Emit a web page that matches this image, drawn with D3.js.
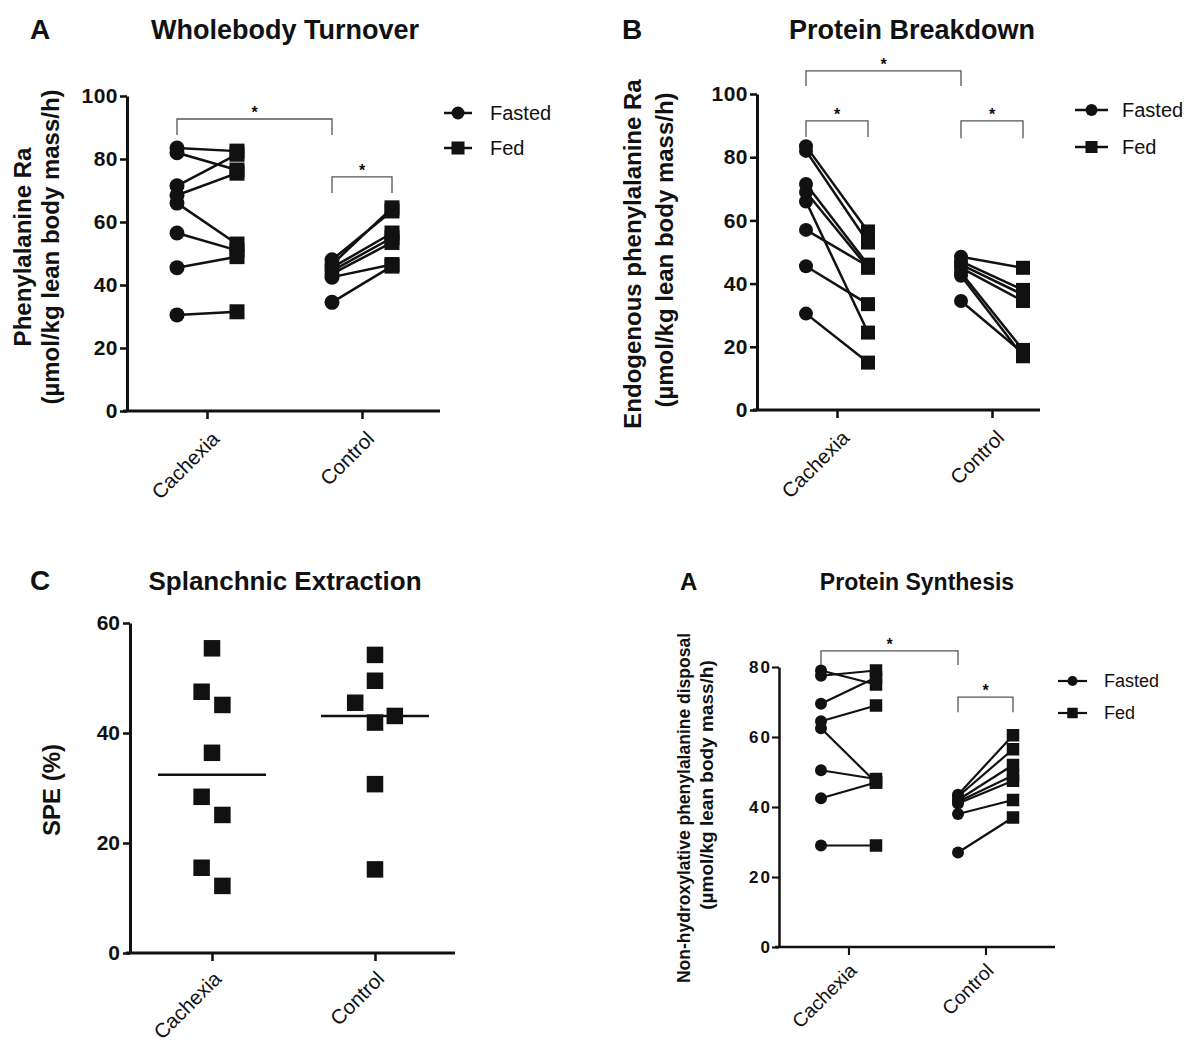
<!DOCTYPE html>
<html>
<head>
<meta charset="utf-8">
<script src="https://cdn.jsdelivr.net/npm/d3@7"></script>
<style>
  body { margin: 0; background: #fff; }
  svg text { font-family: "Liberation Sans", Arial, sans-serif; fill: #111; }
</style>
</head>
<body>
<div id="chart"></div>
<script>
// Categories
var groups = ["Cachexia", "Control"];
var conditions = ["Fasted", "Fed"];

// A: Wholebody turnover (phenylalanine Ra), one value per subject
var turnoverCachexiaFasted = [83.5, 82, 71.5, 68.5, 66, 56.5, 45.5, 30.5];
var turnoverCachexiaFed    = [82.5, 76.5, 81.5, 75.5, 53, 51, 49, 31.5];
var turnoverControlFasted  = [48, 46.5, 45.5, 44.5, 43.5, 42.5, 34.5];
var turnoverControlFed     = [63.5, 64.5, 56.5, 55, 53.5, 46.5, 46];

// B: Protein breakdown (endogenous phenylalanine Ra)
var breakdownCachexiaFasted = [83.5, 82, 71.5, 69, 66, 57, 45.5, 30.5];
var breakdownCachexiaFed    = [56.5, 53, 46, 45, 24.5, 45.5, 33.5, 15];
var breakdownControlFasted  = [48.5, 47, 46, 45, 43.5, 42.5, 34.5];
var breakdownControlFed     = [45, 38, 36.5, 34.5, 19, 17, 18];

// C: Splanchnic extraction (SPE %)
var speCachexia = [55.4, 47.5, 45.1, 36.4, 28.4, 25.1, 15.5, 12.2];
var speControl  = [54.2, 49.5, 45.5, 43.1, 41.9, 30.7, 15.2];

// D: Protein synthesis (non-hydroxylative phenylalanine disposal)
var synthesisCachexiaFasted = [79, 77.5, 69.5, 64.5, 62.5, 50.5, 42.5, 29];
var synthesisCachexiaFed    = [75, 79, 77, 69, 47, 48, 47, 29];
var synthesisControlFasted  = [43.5, 43, 42, 41.5, 41, 38, 27];
var synthesisControlFed     = [60.5, 56.5, 52, 49, 47.5, 42, 37];

// Tick values
var ticks100 = [0, 20, 40, 60, 80, 100];
var ticks80 = [0, 20, 40, 60, 80];
var ticks60 = [0, 20, 40, 60];

var svgWidth = 1186;
var svgHeight = 1042;

var svg = d3.select("#chart")
  .append("svg")
  .attr("width", svgWidth)
  .attr("height", svgHeight);

function title(letter, letterX, letterSize, text, textX, textSize, baseline) {
  svg.append("text")
    .attr("x", letterX).attr("y", baseline)
    .style("font-size", letterSize + "px").style("font-weight", "bold")
    .text(letter);
  svg.append("text")
    .attr("x", textX).attr("y", baseline)
    .attr("text-anchor", "middle")
    .style("font-size", textSize + "px").style("font-weight", "bold")
    .text(text);
}

function yLabel(lines, xs, cys, sizes) {
  lines.forEach(function(line, i) {
    svg.append("text")
      .attr("transform", `translate(${xs[i]}, ${cys[i]}) rotate(-90)`)
      .attr("text-anchor", "middle")
      .style("font-size", sizes[i] + "px").style("font-weight", "bold")
      .text(line);
  });
}

function drawAxes(p, y, x) {
  var yAxis = svg.append("g")
    .attr("transform", `translate(${p.left}, 0)`)
    .attr("font-family", null).attr("font-size", null)
    .call(d3.axisLeft(y).tickValues(p.ticks).tickSize(7).tickSizeOuter(0).tickPadding(p.tickPad));
  yAxis.select(".domain").attr("stroke", "#111").attr("stroke-width", p.axisWidth);
  yAxis.selectAll(".tick line").attr("stroke", "#111").attr("stroke-width", p.axisWidth * 0.85);
  yAxis.selectAll(".tick text")
    .style("font-size", p.tickFont + "px").style("font-weight", "bold")
    .style("letter-spacing", p.tickSpacing + "px");

  svg.append("line")
    .attr("x1", p.left - 4).attr("x2", p.right)
    .attr("y1", p.bottom).attr("y2", p.bottom)
    .attr("stroke", "#111").attr("stroke-width", p.axisWidth);

  var xAxis = svg.append("g")
    .attr("transform", `translate(0, ${p.bottom})`)
    .attr("font-family", null).attr("font-size", null)
    .call(d3.axisBottom(x).tickSize(8).tickSizeOuter(0));
  xAxis.select(".domain").remove();
  xAxis.selectAll(".tick line").attr("stroke", "#111").attr("stroke-width", p.axisWidth * 0.85);
  xAxis.selectAll(".tick text")
    .attr("x", 0).attr("y", 0).attr("dy", "0.35em")
    .attr("text-anchor", "end")
    .attr("transform", `translate(${p.labelDx}, ${p.labelDy}) rotate(-45)`)
    .style("font-size", p.labelFont + "px");
}

function drawPairedPanel(p) {
  var y = d3.scaleLinear().domain(p.yDomain).range([p.bottom, p.top]);
  var x = d3.scalePoint().domain(groups).range(p.centers);
  var shift = d3.scalePoint().domain(conditions).range([-p.spread, p.spread]);
  var px = function(grp, cond) { return x(grp) + shift(cond); };

  drawAxes(p, y, x);

  // one record per subject
  var subjects = [];
  groups.forEach(function(grp) {
    p.series[grp].Fasted.forEach(function(v, i) {
      subjects.push({ group: grp, fasted: v, fed: p.series[grp].Fed[i] });
    });
  });

  svg.append("g").selectAll("line")
    .data(subjects)
    .enter()
    .append("line")
    .attr("x1", d => px(d.group, "Fasted"))
    .attr("y1", d => y(d.fasted))
    .attr("x2", d => px(d.group, "Fed"))
    .attr("y2", d => y(d.fed))
    .attr("stroke", "#111")
    .attr("stroke-width", p.lineWidth);

  svg.append("g").selectAll("rect")
    .data(subjects)
    .enter()
    .append("rect")
    .attr("x", d => px(d.group, "Fed") - p.sq / 2)
    .attr("y", d => y(d.fed) - p.sq / 2)
    .attr("width", p.sq).attr("height", p.sq)
    .attr("fill", "#111");

  svg.append("g").selectAll("circle")
    .data(subjects)
    .enter()
    .append("circle")
    .attr("cx", d => px(d.group, "Fasted"))
    .attr("cy", d => y(d.fasted))
    .attr("r", p.r)
    .attr("fill", "#111");

  // significance brackets
  p.brackets.forEach(function(b) {
    var xa = px(b.from[0], b.from[1]);
    var xb = px(b.to[0], b.to[1]);
    svg.append("path")
      .attr("d", `M${xa},${y(b.leg)}V${y(b.level)}H${xb}V${y(b.leg)}`)
      .attr("fill", "none")
      .attr("stroke", "#555")
      .attr("stroke-width", 1.3);
    svg.append("text")
      .attr("x", (xa + xb) / 2).attr("y", y(b.level) - 1)
      .attr("text-anchor", "middle")
      .style("font-size", "16px").style("font-weight", "bold")
      .text("*");
  });

  // legend
  var lg = svg.append("g").attr("transform", `translate(${p.legend.x}, ${p.legend.y})`);
  conditions.forEach(function(cond, i) {
    var row = lg.append("g").attr("transform", `translate(0, ${i * p.legend.gap})`);
    row.append("line")
      .attr("x1", 0).attr("x2", p.legend.len)
      .attr("stroke", "#111").attr("stroke-width", p.lineWidth);
    if (cond === "Fasted") {
      row.append("circle").attr("cx", p.legend.len / 2).attr("r", p.r - 1).attr("fill", "#111");
    } else {
      row.append("rect")
        .attr("x", p.legend.len / 2 - (p.sq - 2) / 2).attr("y", -(p.sq - 2) / 2)
        .attr("width", p.sq - 2).attr("height", p.sq - 2).attr("fill", "#111");
    }
    row.append("text")
      .attr("x", p.legend.textX).attr("dy", "0.35em")
      .style("font-size", p.legend.font + "px")
      .text(cond);
  });
}

// spread points that would overlap side by side, like a column scatter
function columnOffsets(values, y, size) {
  var order = d3.range(values.length).sort((a, b) => values[b] - values[a]);
  var offsets = new Array(values.length).fill(0);
  var clusters = [];
  order.forEach(function(idx, k) {
    if (k > 0 && Math.abs(y(values[idx]) - y(values[order[k - 1]])) < size + 4) {
      clusters[clusters.length - 1].push(idx);
    } else {
      clusters.push([idx]);
    }
  });
  clusters.forEach(function(c) {
    if (c.length === 2) {
      offsets[c[0]] = -size * 0.63;
      offsets[c[1]] = size * 0.63;
    } else if (c.length >= 3) {
      var pattern = [-1, 1, 0, -2, 2];
      c.forEach(function(idx, j) { offsets[idx] = pattern[j % 5] * size * 1.2; });
    }
  });
  return offsets;
}

function drawScatterPanel(p) {
  var y = d3.scaleLinear().domain(p.yDomain).range([p.bottom, p.top]);
  var x = d3.scalePoint().domain(groups).range(p.centers);

  drawAxes(p, y, x);

  groups.forEach(function(grp) {
    var values = p.series[grp];
    var offsets = columnOffsets(values, y, p.sq);
    var points = values.map((v, i) => ({ value: v, dx: offsets[i] }));

    svg.append("g").selectAll("rect")
      .data(points)
      .enter()
      .append("rect")
      .attr("x", d => x(grp) + d.dx - p.sq / 2)
      .attr("y", d => y(d.value) - p.sq / 2)
      .attr("width", p.sq).attr("height", p.sq)
      .attr("fill", "#111");

    var med = d3.median(values);
    svg.append("line")
      .attr("x1", x(grp) - p.medianHalf).attr("x2", x(grp) + p.medianHalf)
      .attr("y1", y(med)).attr("y2", y(med))
      .attr("stroke", "#111").attr("stroke-width", 2.5);
  });
}

// ---- Panel A ----
title("A", 30, 28, "Wholebody Turnover", 285, 27, 39);
yLabel(["Phenylalanine Ra", "(\u00b5mol/kg lean body mass/h)"], [31, 59], [247, 247], [24, 24]);
drawPairedPanel({
  left: 127, right: 440, top: 96, bottom: 411,
  yDomain: [0, 100], ticks: ticks100, centers: [207, 362], spread: 30,
  tickFont: 21, tickSpacing: 0.5, tickPad: 2, axisWidth: 3,
  labelFont: 20.5, labelDx: 8, labelDy: 24,
  r: 7.5, sq: 15, lineWidth: 2.5,
  series: {
    Cachexia: { Fasted: turnoverCachexiaFasted, Fed: turnoverCachexiaFed },
    Control: { Fasted: turnoverControlFasted, Fed: turnoverControlFed }
  },
  brackets: [
    { from: ["Cachexia", "Fasted"], to: ["Control", "Fasted"], level: 92.7, leg: 87.6 },
    { from: ["Control", "Fasted"], to: ["Control", "Fed"], level: 74.3, leg: 69.2 }
  ],
  legend: { x: 444, y: 113, gap: 35, len: 28, textX: 46, font: 20 }
});

// ---- Panel B ----
title("B", 622, 28, "Protein Breakdown", 912, 27, 39);
yLabel(["Endogenous phenylalanine Ra", "(\u00b5mol/kg lean body mass/h)"], [641, 673], [254, 250], [24, 24]);
drawPairedPanel({
  left: 757, right: 1040, top: 94, bottom: 410,
  yDomain: [0, 100], ticks: ticks100, centers: [837, 992], spread: 31,
  tickFont: 21, tickSpacing: 0.5, tickPad: 2, axisWidth: 3,
  labelFont: 20.5, labelDx: 8, labelDy: 24,
  r: 7, sq: 14, lineWidth: 2.5,
  series: {
    Cachexia: { Fasted: breakdownCachexiaFasted, Fed: breakdownCachexiaFed },
    Control: { Fasted: breakdownControlFasted, Fed: breakdownControlFed }
  },
  brackets: [
    { from: ["Cachexia", "Fasted"], to: ["Control", "Fasted"], level: 107.3, leg: 102.5 },
    { from: ["Cachexia", "Fasted"], to: ["Cachexia", "Fed"], level: 91.5, leg: 86.4 },
    { from: ["Control", "Fasted"], to: ["Control", "Fed"], level: 91.5, leg: 86 }
  ],
  legend: { x: 1075, y: 110, gap: 37, len: 33, textX: 47, font: 20 }
});

// ---- Panel C ----
title("C", 30, 28, "Splanchnic Extraction", 285, 26, 590);
yLabel(["SPE (%)"], [60], [790], [24]);
drawScatterPanel({
  left: 130, right: 455, top: 623, bottom: 953,
  yDomain: [0, 60], ticks: ticks60, centers: [212, 375],
  tickFont: 21, tickSpacing: 0, tickPad: 3, axisWidth: 3,
  labelFont: 20.5, labelDx: 5, labelDy: 22,
  sq: 16.5, medianHalf: 54,
  series: { Cachexia: speCachexia, Control: speControl }
});

// ---- Panel D ----
title("A", 680, 24, "Protein Synthesis", 917, 23, 590);
yLabel(["Non-hydroxylative phenylalanine disposal", "(\u00b5mol/kg lean body mass/h)"], [690, 713], [808, 785], [17.5, 19]);
drawPairedPanel({
  left: 779, right: 1055, top: 667, bottom: 947,
  yDomain: [0, 80], ticks: ticks80, centers: [848.5, 985.5], spread: 27.5,
  tickFont: 17, tickSpacing: 2, tickPad: 0, axisWidth: 2.5,
  labelFont: 19.5, labelDx: 4, labelDy: 20,
  r: 6, sq: 12.5, lineWidth: 2.2,
  series: {
    Cachexia: { Fasted: synthesisCachexiaFasted, Fed: synthesisCachexiaFed },
    Control: { Fasted: synthesisControlFasted, Fed: synthesisControlFed }
  },
  brackets: [
    { from: ["Cachexia", "Fasted"], to: ["Control", "Fasted"], level: 84.6, leg: 80.6 },
    { from: ["Control", "Fasted"], to: ["Control", "Fed"], level: 71.4, leg: 67.1 }
  ],
  legend: { x: 1058, y: 681, gap: 32, len: 29, textX: 46, font: 18 }
});
</script>
</body>
</html>
